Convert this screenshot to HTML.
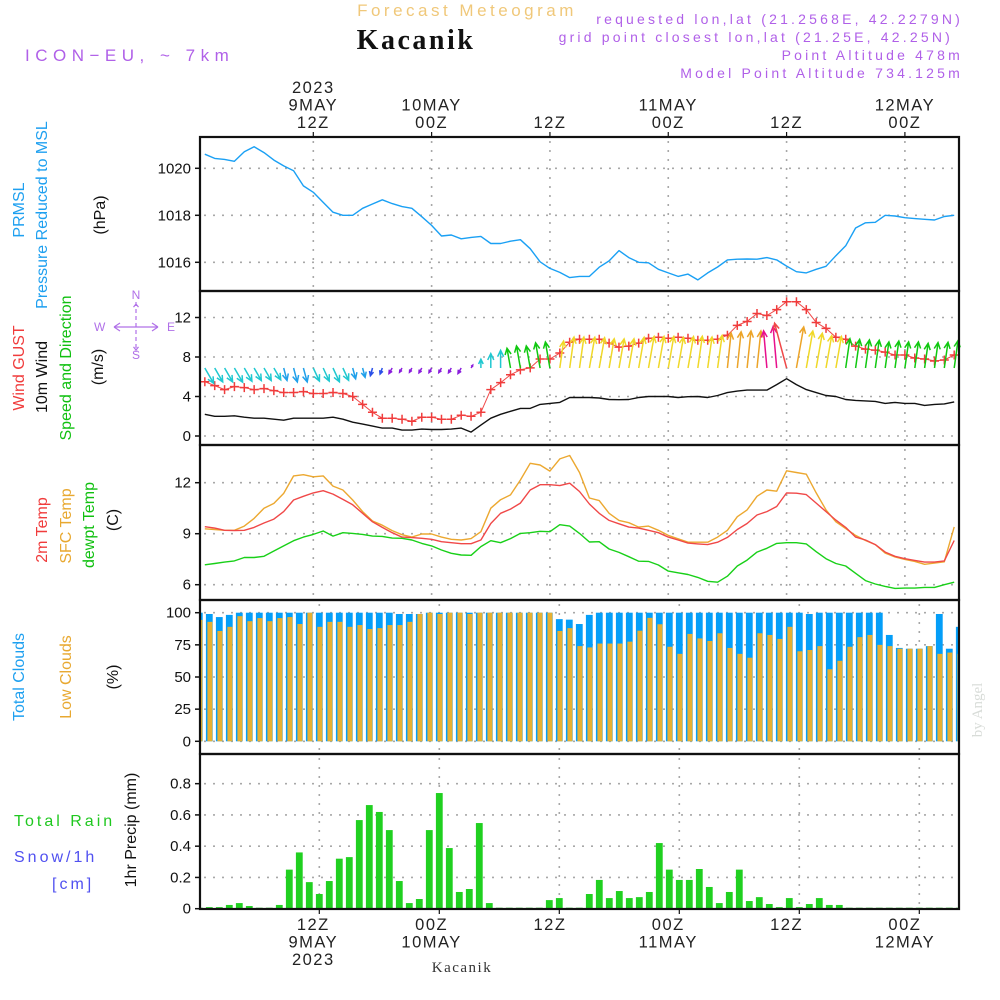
<!DOCTYPE html>
<html><head><meta charset="utf-8"><title>Forecast Meteogram Kacanik</title>
<style>
html,body{margin:0;padding:0;background:#fff;}
svg{display:block;font-family:"Liberation Sans",sans-serif;}
.tk{font-size:15px;fill:#111;}
.hd{font-size:14px;fill:#b060e8;letter-spacing:3.2px;}
.tl{font-size:16.5px;fill:#222;letter-spacing:1.5px;}
</style></head>
<body>
<svg id="chart" width="1000" height="1000" viewBox="0 0 1000 1000" xmlns="http://www.w3.org/2000/svg">
<text x="467" y="16" text-anchor="middle" font-size="17" fill="#f0c87a" letter-spacing="3.5">Forecast Meteogram</text>
<text x="416" y="49" text-anchor="middle" font-size="28" font-weight="bold" font-family="Liberation Serif, serif" fill="#111" letter-spacing="2.5">Kacanik</text>
<text x="25" y="61" style="font-size:17px;letter-spacing:5.5px;fill:#b060e8">ICON−EU, ~ 7km</text>
<text x="963" y="24" text-anchor="end" class="hd">requested lon,lat (21.2568E, 42.2279N)</text>
<text x="953" y="42" text-anchor="end" class="hd">grid point closest lon,lat (21.25E, 42.25N)</text>
<text x="963" y="60" text-anchor="end" class="hd">Point Altitude 478m</text>
<text x="963" y="78" text-anchor="end" class="hd">Model Point Altitude 734.125m</text>

<g font-size="16">
<text transform="translate(24,210) rotate(-90)" text-anchor="middle" fill="#1ea0f0">PRMSL</text>
<text transform="translate(47,215) rotate(-90)" text-anchor="middle" fill="#1ea0f0">Pressure Reduced to MSL</text>
<text transform="translate(105,215) rotate(-90)" text-anchor="middle" fill="#111">(hPa)</text>
<text transform="translate(24,368) rotate(-90)" text-anchor="middle" fill="#f03c3c">Wind GUST</text>
<text transform="translate(47,377) rotate(-90)" text-anchor="middle" fill="#111">10m Wind</text>
<text transform="translate(71,368) rotate(-90)" text-anchor="middle" fill="#10c010">Speed and Direction</text>
<text transform="translate(103,367) rotate(-90)" text-anchor="middle" fill="#111">(m/s)</text>
<text transform="translate(47,530) rotate(-90)" text-anchor="middle" fill="#f03c3c">2m Temp</text>
<text transform="translate(71,526) rotate(-90)" text-anchor="middle" fill="#e8a830">SFC Temp</text>
<text transform="translate(94,525) rotate(-90)" text-anchor="middle" fill="#10c010">dewpt Temp</text>
<text transform="translate(118,520) rotate(-90)" text-anchor="middle" fill="#111">(C)</text>
<text transform="translate(24,677) rotate(-90)" text-anchor="middle" fill="#1ea0f0">Total Clouds</text>
<text transform="translate(71,677) rotate(-90)" text-anchor="middle" fill="#e8a830">Low Clouds</text>
<text transform="translate(118,677) rotate(-90)" text-anchor="middle" fill="#111">(%)</text>
<text transform="translate(136,830) rotate(-90)" text-anchor="middle" fill="#111">1hr Precip (mm)</text>
<text x="14" y="826" fill="#20c820" letter-spacing="3">Total   Rain</text>
<text x="14" y="862" fill="#5050f0" letter-spacing="3">Snow/1h</text>
<text x="52" y="889" fill="#5050f0" letter-spacing="3">[cm]</text>
</g>
<g stroke="#b070e8" fill="none" stroke-width="1.2" font-size="12">
<path d="M136,302V352M136,304l-4,5M136,304l4,5M136,350l-4,-5M136,350l4,-5" stroke-dasharray="4 3"/>
<path d="M114,327H158M114,327l6,-4M114,327l6,4M158,327l-6,-4M158,327l-6,4"/>
<text x="136" y="299" text-anchor="middle" fill="#b070e8" stroke="none">N</text>
<text x="136" y="359" text-anchor="middle" fill="#b070e8" stroke="none">S</text>
<text x="94" y="331" fill="#b070e8" stroke="none">W</text>
<text x="167" y="331" fill="#b070e8" stroke="none">E</text>
</g>
<text transform="translate(982,710) rotate(-90)" text-anchor="middle" font-size="15" font-family="Liberation Serif, serif" fill="#d8dcd8">by Angel</text>
<text x="462" y="972" text-anchor="middle" font-size="15" font-family="Liberation Serif, serif" fill="#333" letter-spacing="1.5">Kacanik</text>
<g id="plot"></g>
</svg>
<script>
// ---- data (hourly, hours 1..77 from 00Z 9 May) ----
const pressure = [1020.6,1020.42,1020.38,1020.3,1020.7,1020.92,1020.67,1020.35,1020.1,1019.9,1019.25,1018.98,1018.55,1018.13,1018.0,1018.0,1018.3,1018.48,1018.66,1018.5,1018.37,1018.3,1017.94,1017.57,1017.12,1017.16,1017.0,1017.06,1017.1,1016.8,1016.8,1016.9,1016.96,1016.58,1016.02,1015.74,1015.57,1015.35,1015.4,1015.4,1015.79,1016.06,1016.5,1016.2,1016.0,1015.98,1015.7,1015.55,1015.4,1015.5,1015.25,1015.55,1015.8,1016.1,1016.13,1016.14,1016.13,1016.2,1016.1,1015.84,1015.6,1015.55,1015.7,1015.83,1016.28,1016.7,1017.46,1017.68,1017.7,1018.0,1017.97,1017.9,1017.86,1017.83,1017.8,1017.95,1018.0];
const wind10m = [2.2,2.0,2.0,2.05,1.9,1.8,1.8,1.7,1.6,1.8,1.8,1.8,1.8,1.9,1.7,1.4,1.2,1.0,0.8,0.8,0.6,0.6,0.7,0.66,0.66,0.7,0.8,0.4,1.1,1.8,2.2,2.5,2.8,2.8,3.2,3.3,3.4,3.9,3.9,3.9,3.85,3.7,3.68,3.7,3.9,4.0,4.0,4.0,3.9,3.98,4.0,3.9,4.1,4.4,4.55,4.65,4.65,4.65,5.2,5.8,5.2,4.7,4.4,4.1,4.0,3.7,3.6,3.55,3.5,3.3,3.4,3.3,3.3,3.1,3.2,3.25,3.45];
const gust = [5.5,5.1,4.7,5.0,4.9,4.7,4.8,4.6,4.4,4.4,4.5,4.3,4.3,4.4,4.3,4.0,3.2,2.4,1.8,1.8,1.7,1.5,1.9,1.9,1.7,1.7,2.1,2.0,2.4,4.7,5.4,6.2,6.7,6.9,7.8,7.8,8.4,9.5,9.8,9.8,9.8,9.4,9.0,9.1,9.4,9.9,10.0,9.9,10.0,9.9,9.7,9.7,9.8,10.2,11.2,11.6,12.4,12.2,12.8,13.6,13.6,12.8,11.5,10.9,10.0,9.8,9.1,8.8,8.7,8.5,8.2,8.2,7.9,7.8,7.6,7.7,8.2];
const windFrom = [330,330,330,330,330,330,330,330,345,345,345,335,335,335,335,345,345,15,20,30,30,30,30,30,30,30,30,210,180,180,180,170,170,170,170,170,188,188,188,190,190,190,190,190,190,190,190,190,190,190,188,188,188,186,186,186,186,175,175,165,190,190,190,190,190,188,188,188,188,188,188,188,188,188,188,188,188];
const windCat = ["c","c","c","c","c","c","c","c","b","b","b","c","c","c","c","b","b","B","B","p","p","p","p","p","p","p","p","p","c","c","c","g","g","g","g","g","y","y","y","y","y","y","y","y","y","y","y","y","y","y","y","y","y","o","o","o","o","m","m","r","o","y","y","y","y","g","g","g","g","g","g","g","g","g","g","g","g"];
const t2m = [9.41,9.33,9.2,9.18,9.2,9.37,9.63,9.86,10.3,10.98,11.2,11.4,11.53,11.33,11.02,10.7,10.2,9.7,9.37,9.06,8.8,8.77,8.73,8.67,8.53,8.47,8.41,8.41,8.63,9.6,10.2,10.45,10.8,11.57,11.88,11.88,11.83,11.97,11.48,10.75,10.2,9.78,9.58,9.39,9.33,9.2,9.06,8.8,8.63,8.45,8.4,8.36,8.5,8.78,9.25,9.6,10.1,10.3,10.6,11.4,11.38,11.3,10.8,10.3,9.8,9.37,8.8,8.63,8.36,7.92,7.67,7.53,7.43,7.33,7.33,7.4,8.6];
const tSfc = [9.29,9.25,9.2,9.2,9.45,9.9,10.5,10.78,11.37,12.4,12.47,12.35,12.4,11.8,11.57,10.98,10.3,9.75,9.5,9.18,8.94,8.8,8.98,8.98,8.8,8.67,8.63,8.71,9.12,10.5,11.0,11.28,12.16,13.14,13.04,12.68,13.4,13.6,12.6,11.1,10.95,10.2,9.78,9.65,9.39,9.45,9.2,8.9,8.7,8.5,8.5,8.5,8.8,9.2,10.0,10.4,11.2,11.57,11.5,12.7,12.6,12.5,11.4,10.4,9.7,9.3,8.9,8.6,8.36,7.86,7.63,7.49,7.37,7.2,7.27,7.35,9.4];
const tDew = [7.17,7.25,7.33,7.4,7.6,7.6,7.67,7.98,8.28,8.59,8.8,8.96,9.16,8.86,9.06,9.02,8.96,8.86,8.84,8.74,8.73,8.63,8.43,8.28,8.04,7.85,7.75,7.73,8.24,8.59,8.47,8.71,9.02,9.06,9.14,9.12,9.53,9.45,9.02,8.51,8.53,8.1,7.9,7.65,7.38,7.37,7.16,6.8,6.7,6.6,6.43,6.2,6.15,6.5,7.1,7.45,7.92,8.14,8.43,8.47,8.47,8.4,7.94,7.53,7.25,7.1,6.67,6.24,6.04,5.9,5.78,5.8,5.8,5.84,5.84,6.0,6.15];
// hourly bars, index 0..76
const totalCloud = [100,99,96.6,98.3,100,100,100,100,100,100,100,100,100,100,100,100,100,100,100,100,99,99,99,100,100,100,100,100,100,100,100,100,100,100,100,100,95,94.6,91.2,98.3,100,100,100,100,100,100,100,100,100,100,100,100,100,100,100,100,100,100,100,100,100,99,100,100,100,100,100,100,100,82.7,72.6,72,72,74,99,72,89];
const lowCloud = [94.4,92.9,85.8,89,97.3,93.4,95.8,93.4,95.8,96.6,91.2,100,89,92.9,92.9,89,90.4,87.3,88,90.4,90.4,92.9,99,100,99,100,100,99,100,100,100,100,100,100,100,100,85.8,88,74,73,76,76,76,77.5,86,96,91,73.5,68,83.5,80,78,84,72.6,68,65,84,82.7,79.6,89,70,71,74,56,62.6,73.5,81,82.7,75,74,72,72,72,74,68,69,68];
const precip = [0,0.01,0.01,0.024,0.036,0.017,0,0,0.024,0.25,0.36,0.17,0.094,0.177,0.32,0.33,0.567,0.663,0.619,0.503,0.177,0.036,0.062,0.503,0.74,0.388,0.107,0.126,0.548,0.036,0,0,0,0,0,0.055,0.068,0,0,0.094,0.184,0.068,0.113,0.068,0.074,0.107,0.42,0.25,0.184,0.184,0.254,0.139,0.036,0.107,0.25,0.049,0.074,0.03,0.01,0.068,0.01,0.03,0.068,0.024,0.024,0,0,0,0,0,0,0,0,0,0,0,0];
const pTicks = [1020,1018,1016];
const wTicks = [12,8,4,0];
const tTicks = [12,9,6];
const cTicks = [100,75,50,25,0];
const rTicks = [0.8,0.6,0.4,0.2,0];
const rTickLabels = ["0.8","0.6","0.4","0.2","0"];
const timeHours = [12,24,36,48,60,72];
const topLabels = [["2023","9MAY","12Z"],["","10MAY","00Z"],["","","12Z"],["","11MAY","00Z"],["","","12Z"],["","12MAY","00Z"]];
const botLabels = [["12Z","9MAY","2023"],["00Z","10MAY",""],["12Z","",""],["00Z","11MAY",""],["12Z","",""],["00Z","12MAY",""]];

// ---- scales ----
const X0=200, X1=959;
const xa = h => 313.3 + (h-12)*9.86;      // line panels
const xb = i => 199.3 + i*10;             // bar panels (bar i = hour i..i+1)
const yP = v => 262.3 - (v-1016)*23.5;
const yW = v => 436 - v*9.875;
const yT = v => 533.7 - (v-9)*17;
const yC = v => 741.3 - v*1.286;
const yR = v => 908.7 - v*156.3;
const panels = [[137,291,'pressure-panel'],[291,445,'wind-panel'],[445,600,'temperature-panel'],[600,754,'cloud-panel'],[754,909,'precip-panel']];
const catColor = {c:'#20c8d0',b:'#20a0ea',B:'#2a50e8',p:'#8a1edc',g:'#10c810',y:'#f0d828',o:'#eca428',m:'#e8108c',r:'#f04848'};

const NS='http://www.w3.org/2000/svg';
const plot=document.getElementById('plot');
function mk(tag, attrs, parent){const e=document.createElementNS(NS,tag);for(const k in attrs)e.setAttribute(k,attrs[k]);(parent||plot).appendChild(e);return e;}
const grid = mk('g',{});


const GS={stroke:'#a8a8a8','stroke-width':1.6,'stroke-dasharray':'2 7'};
function hgrid(y){const l=mk('line',Object.assign({x1:X0+4,x2:X1,y1:y,y2:y},GS),grid);}
function ytick(y,label,name){
  const t=mk('line',{x1:195,x2:X0,y1:y,y2:y,stroke:'#111','stroke-width':1.5});
  
  
  const s=mk('text',{x:191,y:y+5,'text-anchor':'end',class:'tk'});s.textContent=label;
  
  
}
pTicks.forEach(v=>{hgrid(yP(v));ytick(yP(v),String(v),'pressure');});
wTicks.forEach(v=>{hgrid(yW(v));ytick(yW(v),String(v),'wind');});
tTicks.forEach(v=>{hgrid(yT(v));ytick(yT(v),String(v),'temp');});
cTicks.forEach(v=>{hgrid(yC(v));ytick(yC(v),String(v),'cloud');});
rTicks.forEach((v,i)=>{if(v>0)hgrid(yR(v));ytick(yR(v),rTickLabels[i],'precip');});
// vertical grid
timeHours.forEach(h=>{
  [[137,291],[291,445],[445,600]].forEach(p=>{const l=mk('line',Object.assign({x1:xa(h),x2:xa(h),y1:p[0]+4,y2:p[1]},GS),grid);});
  [[600,754],[754,909]].forEach(p=>{const l=mk('line',Object.assign({x1:xb(h-1)+10,x2:xb(h-1)+10,y1:p[0]+4,y2:p[1]},GS),grid);});
});
// clip
const defs=mk('defs',{});
const cp=mk('clipPath',{id:'clipbars'},defs);mk('rect',{x:X0,y:137,width:X1-X0,height:772},cp);

// bars: clouds
const cg=mk('g',{'clip-path':'url(#clipbars)'});


totalCloud.forEach((v,i)=>{
  const b=mk('rect',{x:xb(i)-3.4,y:yC(v),width:6.8,height:yC(0)-yC(v),fill:'#049ef8'},cg);
  
  
  const o=mk('rect',{x:xb(i)-1.9,y:yC(lowCloud[i]),width:5,height:yC(0)-yC(lowCloud[i]),fill:'#e8b030'},cg);
  
  
});
const rg=mk('g',{'clip-path':'url(#clipbars)'});


precip.forEach((v,i)=>{
  const b=mk('rect',{x:xb(i)-3.4,y:yR(v)-(v>0?0:1),width:6.8,height:Math.max(1.5,yR(0)-yR(v)),fill:'#20d020'},rg);
  
  
});

// lines
function line(arr,yf,color,name,w){
  const pts=arr.map((v,k)=>xa(k+1).toFixed(1)+','+yf(v).toFixed(1)).join(' ');
  const l=mk('polyline',{points:pts,fill:'none',stroke:color,'stroke-width':w||1.4,'stroke-linejoin':'round'});
  
  
  return l;
}
line(pressure,yP,'#1aa0f4','pressure-line');
line(wind10m,yW,'#111','wind10m-line');
line(gust,yW,'#f04848','gust-line',1);
line(tSfc,yT,'#eca830','sfc-temp-line');
line(t2m,yT,'#f04848','t2m-line');
line(tDew,yT,'#18d018','dewpt-line');
// gust markers
const gm=mk('g',{stroke:'#f03c3c','stroke-width':1.5});


gust.forEach((v,k)=>{const x=xa(k+1),y=yW(v);
  const p=mk('path',{d:`M${x-4.5},${y}H${x+4.5}M${x},${y-4.5}V${y+4.5}`},gm);
  
  });
// wind arrows
const ag=mk('g',{'stroke-width':1.5,fill:'none'});


const BASE=368;
wind10m.forEach((s,k)=>{
  const x=xa(k+1), to=(windFrom[k]+180)*Math.PI/180, L=8*s;
  const ex=x+L*Math.sin(to), ey=BASE-L*Math.cos(to);
  const a1=to+Math.PI-0.45, a2=to+Math.PI+0.45, hl=Math.min(7,L*0.6);
  const d=`M${x.toFixed(1)},${BASE}L${ex.toFixed(1)},${ey.toFixed(1)}M${(ex+hl*Math.sin(a1)).toFixed(1)},${(ey-hl*Math.cos(a1)).toFixed(1)}L${ex.toFixed(1)},${ey.toFixed(1)}L${(ex+hl*Math.sin(a2)).toFixed(1)},${(ey-hl*Math.cos(a2)).toFixed(1)}`;
  const p=mk('path',{d:d,stroke:catColor[windCat[k]]},ag);
  
  
});
// panel frames
panels.forEach(p=>{const r=mk('rect',{x:X0,y:p[0],width:X1-X0,height:p[1]-p[0],fill:'none',stroke:'#111','stroke-width':2.2});
  
  });
// time axes
timeHours.forEach((h,j)=>{
  const x=xa(h);
  const t=mk('line',{x1:x,x2:x,y1:132,y2:137,stroke:'#111','stroke-width':1.2});
  
  
  topLabels[j].forEach((s,r)=>{if(!s)return;const e=mk('text',{x:x,y:93+r*17.5,'text-anchor':'middle',class:'tl'});e.textContent=s;
    
    });
  const xbt=xb(h-1)+10;
  const t2=mk('line',{x1:xbt,x2:xbt,y1:909,y2:914,stroke:'#111','stroke-width':1.2});
  
  
  botLabels[j].forEach((s,r)=>{if(!s)return;const e=mk('text',{x:x,y:930+r*17.5,'text-anchor':'middle',class:'tl'});e.textContent=s;
    
    });
});
</script>
</body></html>
